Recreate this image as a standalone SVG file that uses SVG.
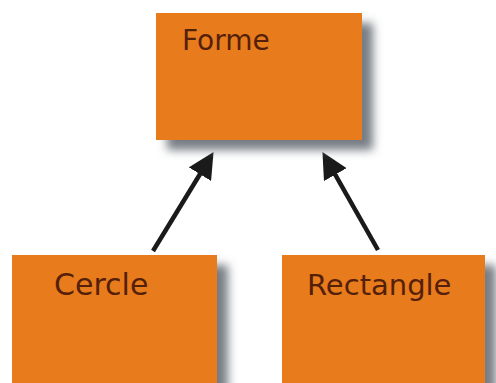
<svg xmlns="http://www.w3.org/2000/svg" width="496" height="383" viewBox="0 0 496 383">
  <defs>
    <filter id="shadow" x="-15%" y="-15%" width="140%" height="140%">
      <feDropShadow dx="11" dy="10" stdDeviation="5" flood-color="#6f767e" flood-opacity="0.95"/>
    </filter>
    <marker id="head" markerUnits="userSpaceOnUse" markerWidth="26" markerHeight="26" viewBox="0 0 24 24" refX="11" refY="12" orient="auto">
      <path d="M0,0 L24,12 L0,24 Z" fill="#1a1a1a"/>
    </marker>
    <style>
      .box { fill: #e87b1e; filter: url(#shadow); }
      .lbl { font-family: "DejaVu Sans", "Liberation Sans", sans-serif; fill: #55200a; }
      .conn { stroke: #1a1a1a; stroke-width: 4.5; fill: none; marker-end: url(#head); }
    </style>
  </defs>
  <rect width="496" height="383" fill="#ffffff"/>
  <g id="connectors">
    <line class="conn" x1="153" y1="251" x2="206.2" y2="164"/>
    <line class="conn" x1="378" y1="250" x2="329.4" y2="164.3"/>
  </g>
  <g id="node-forme">
    <rect class="box" x="156" y="13" width="206" height="127"/>
    <text class="lbl" x="182" y="50" font-size="28">Forme</text>
  </g>
  <g id="node-cercle">
    <rect class="box" x="12" y="255" width="205" height="140"/>
    <text class="lbl" x="54" y="295" font-size="30">Cercle</text>
  </g>
  <g id="node-rectangle">
    <rect class="box" x="282" y="255" width="203" height="140"/>
    <text class="lbl" x="307" y="295" font-size="29">Rectangle</text>
  </g>
</svg>
